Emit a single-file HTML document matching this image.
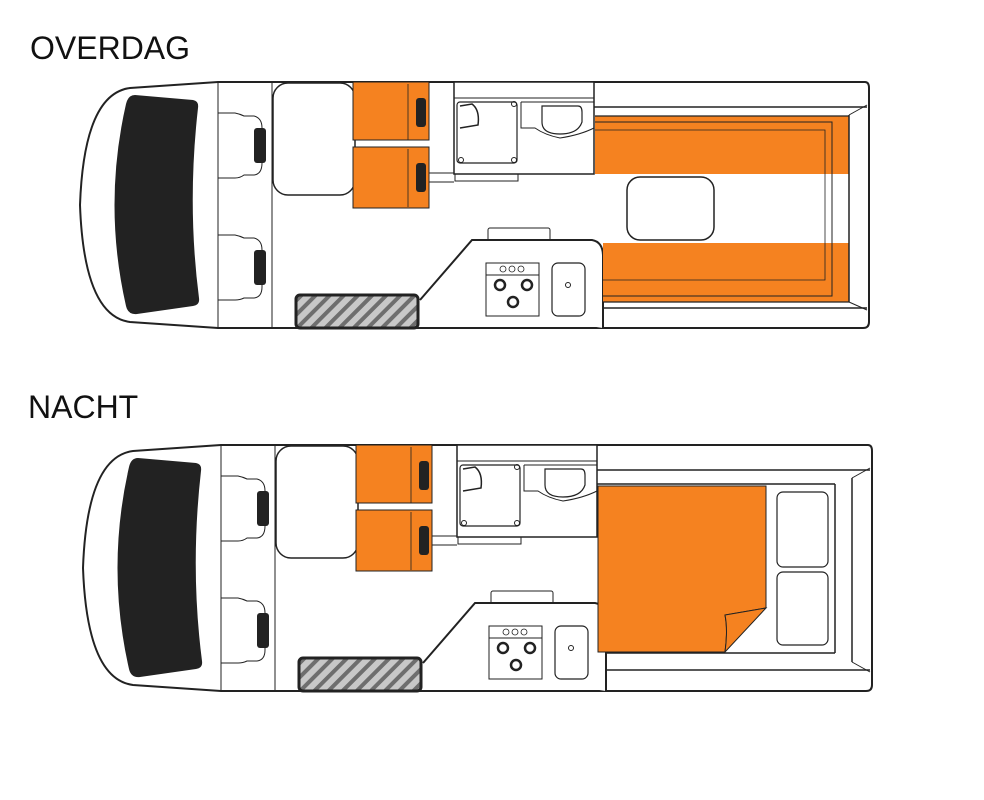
<!DOCTYPE html>
<html><head><meta charset="utf-8"><style>
html,body{margin:0;padding:0;background:#fff;}
svg{display:block}
</style></head><body>
<svg width="984" height="800" viewBox="0 0 984 800" xmlns="http://www.w3.org/2000/svg">
<defs>
<pattern id="hatch" width="10" height="10" patternUnits="userSpaceOnUse" patternTransform="rotate(45)">
<rect width="10" height="10" fill="#c8c8c8"/><rect width="4" height="10" fill="#6e6e6e"/>
</pattern>
<g id="base" fill="none" stroke="#222" stroke-width="1.5">
<path d="M218,82 L865,82 Q869,82 869,88 L869,322 Q869,328 863,328 L218,328 L130,322 Q84,316 80,205 Q84,94 130,88 Z" fill="#fff" stroke-width="2"/>
<path d="M135,95 L193,100 Q199,101 198,108 Q187,205 199,298 Q200,305 193,306 L137,314 Q128,315 126,306 Q103,205 126,104 Q128,95 135,95 Z" fill="#222" stroke="none"/>
<line x1="218" y1="82" x2="218" y2="328" stroke-width="1"/>
<line x1="272" y1="82" x2="272" y2="328" stroke-width="1"/>
<path d="M218,113 L235,113 Q240,114 244,116 L254,116 Q262,118 262,128 L262,163 Q262,174 254,175 L244,175 Q240,178 235,178 L218,178" stroke-width="1"/>
<rect x="254" y="128" width="12" height="35" rx="3" fill="#222" stroke="none"/>
<path d="M218,235 L235,235 Q240,236 244,238 L254,238 Q262,240 262,250 L262,287 Q262,297 254,298 L244,298 Q240,300 235,300 L218,300" stroke-width="1"/>
<rect x="254" y="250" width="12" height="35" rx="3" fill="#222" stroke="none"/>
<rect x="273" y="83" width="82" height="112" rx="15" fill="#fff"/>
<rect x="353" y="82" width="76" height="58" fill="#f58220" stroke-width="1"/>
<rect x="353" y="147" width="76" height="61" fill="#f58220" stroke-width="1"/>
<line x1="408" y1="84" x2="408" y2="140" stroke-width="0.8"/>
<line x1="408" y1="149" x2="408" y2="207" stroke-width="0.8"/>
<rect x="416" y="98" width="10" height="29" rx="3" fill="#222" stroke="none"/>
<rect x="416" y="163" width="10" height="29" rx="3" fill="#222" stroke="none"/>
<line x1="429" y1="173" x2="454" y2="173" stroke-width="1"/>
<line x1="429" y1="182" x2="454" y2="182" stroke-width="1"/>
<rect x="454" y="82" width="140" height="92" fill="#fff"/>
<line x1="454" y1="98" x2="594" y2="98" stroke-width="1"/>
<path d="M455,174 L455,181 L518,181 L518,174" stroke-width="1"/>
<rect x="457" y="102" width="60" height="61" rx="3" stroke-width="1.2"/>
<path d="M460,106 L472,104 Q480,110 478,125 L460,128" stroke-width="1.5"/>
<circle cx="461" cy="160" r="2.5" stroke-width="1"/><circle cx="514" cy="160" r="2.5" stroke-width="1"/><circle cx="514" cy="104" r="2.5" stroke-width="1"/>
<path d="M521,102 L594,102 M521,102 L521,128 L535,128 Q545,135 560,138 Q580,135 594,128" stroke-width="1"/>
<path d="M542,106 L578,106 Q582,106 582,112 L582,122 Q578,134 560,134 Q542,134 542,122 Z" stroke-width="1.2"/>
<rect x="488" y="228" width="62" height="13" rx="2" stroke-width="1"/>
<path d="M420,300 L472,240 L592,240 Q603,242 603,256 L603,328" fill="#fff" stroke-width="2"/>
<rect x="486" y="263" width="53" height="53" stroke-width="1"/>
<line x1="486" y1="275" x2="539" y2="275" stroke-width="1"/>
<circle cx="503" cy="269" r="3" stroke-width="0.8"/><circle cx="512" cy="269" r="3" stroke-width="0.8"/><circle cx="521" cy="269" r="3" stroke-width="0.8"/>
<circle cx="500" cy="285" r="5" stroke-width="2.5"/><circle cx="527" cy="285" r="5" stroke-width="2.5"/><circle cx="513" cy="302" r="5" stroke-width="2.5"/>
<rect x="552" y="263" width="33" height="53" rx="6" stroke-width="1.2"/>
<circle cx="568" cy="285" r="2.5" stroke-width="1"/>
<rect x="296" y="295" width="122" height="33" rx="4" fill="url(#hatch)" stroke-width="3"/>
</g>
</defs>

<text x="30" y="59" font-family="Liberation Sans, sans-serif" font-size="32" fill="#111">OVERDAG</text>
<text x="28" y="418" font-family="Liberation Sans, sans-serif" font-size="32" fill="#111">NACHT</text>

<use href="#base"/>
<g fill="none" stroke="#222">
<line x1="594" y1="107" x2="867" y2="107" stroke-width="1.5"/>
<line x1="603" y1="308" x2="867" y2="308" stroke-width="1.5"/>
<rect x="595" y="116" width="254" height="58" fill="#f58220" stroke="none"/>
<rect x="603" y="243" width="246" height="59" fill="#f58220" stroke="none"/>
<line x1="849" y1="115" x2="849" y2="302" stroke-width="1.5"/>
<line x1="849" y1="115" x2="867" y2="105" stroke-width="1"/>
<line x1="849" y1="302" x2="867" y2="310" stroke-width="1"/>
<line x1="595" y1="116" x2="849" y2="116" stroke-width="1.2"/>
<line x1="603" y1="302" x2="849" y2="302" stroke-width="1.2"/>
<path d="M595,122 L832,122 L832,296 L603,296" stroke-width="1"/>
<path d="M595,130 L825,130 L825,280 L603,280" stroke-width="0.8"/>
<rect x="627" y="177" width="87" height="63" rx="13" fill="#fff" stroke-width="1.5"/>
</g>

<g transform="translate(3,363)"><use href="#base"/></g>
<g fill="none" stroke="#222">
<line x1="597" y1="470" x2="870" y2="470" stroke-width="1.5"/>
<line x1="606" y1="670" x2="870" y2="670" stroke-width="1.5"/>
<line x1="597" y1="484" x2="835" y2="484" stroke-width="1.5"/>
<line x1="606" y1="653" x2="835" y2="653" stroke-width="1.5"/>
<line x1="835" y1="484" x2="835" y2="653" stroke-width="1.5"/>
<line x1="852" y1="478" x2="852" y2="662" stroke-width="1.5"/>
<line x1="852" y1="478" x2="870" y2="468" stroke-width="1"/>
<line x1="852" y1="662" x2="870" y2="672" stroke-width="1"/>
<path d="M598,486 L766,486 L766,608 L725,615 Q728,630 725,652 L598,652 Z" fill="#f58220" stroke-width="1"/>
<path d="M766,608 L725,615 Q728,630 725,652 Z" fill="#f58220" stroke-width="1"/>
<rect x="777" y="492" width="51" height="75" rx="6" stroke-width="1.2"/>
<rect x="777" y="572" width="51" height="73" rx="6" stroke-width="1.2"/>
</g>
</svg>
</body></html>
